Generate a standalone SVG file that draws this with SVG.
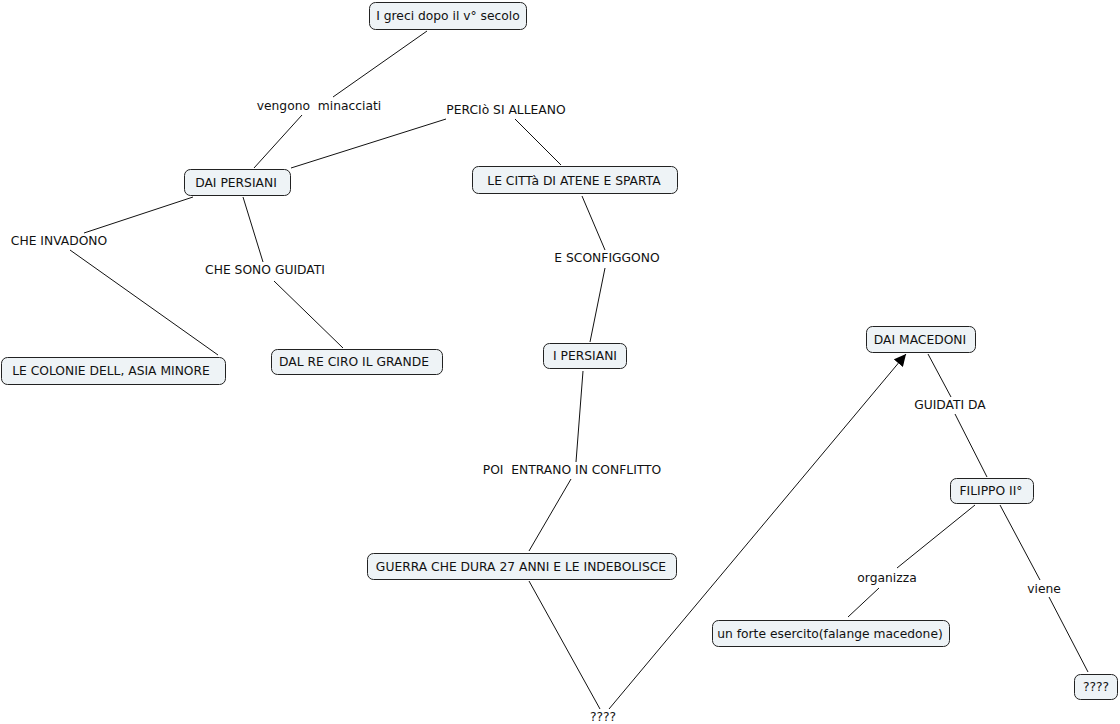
<svg xmlns="http://www.w3.org/2000/svg" width="1120" height="724" viewBox="0 0 1120 724">
<style>
.n rect{fill:#eef3f6;stroke:#222;stroke-width:1;}
text{font-family:"DejaVu Sans","Verdana",sans-serif;font-size:12.3px;fill:#111;white-space:pre;}
.c text{text-anchor:middle;}
.n text{text-anchor:middle;}
.c line{stroke:#111;stroke-width:1;fill:none;}
</style>
<defs>
<marker id="ah" viewBox="0 0 10 10" refX="10" refY="5" markerWidth="12" markerHeight="12" markerUnits="userSpaceOnUse" orient="auto">
<path d="M0,0 L10,5 L0,10 z" fill="#000"/>
</marker>
</defs>
<rect width="1120" height="724" fill="#fff"/>
<g id="connectors" class="c">
<line x1="427" y1="31" x2="333" y2="97"/>
<line x1="302" y1="115" x2="254" y2="168"/>
<line x1="446" y1="119" x2="291" y2="168"/>
<line x1="515" y1="119" x2="561" y2="165"/>
<line x1="193" y1="197" x2="84" y2="233"/>
<line x1="70" y1="250" x2="218" y2="355"/>
<line x1="243" y1="197" x2="263" y2="262"/>
<line x1="274" y1="281" x2="343" y2="348"/>
<line x1="582" y1="196" x2="605" y2="250"/>
<line x1="605" y1="268" x2="590" y2="342"/>
<line x1="583" y1="371" x2="576" y2="462"/>
<line x1="571" y1="479" x2="529" y2="551"/>
<line x1="529" y1="581" x2="600" y2="709"/>
<line x1="609" y1="709" x2="906" y2="354" marker-end="url(#ah)"/>
<line x1="928" y1="354" x2="951" y2="397"/>
<line x1="955" y1="414" x2="987" y2="477"/>
<line x1="975" y1="505" x2="897" y2="568"/>
<line x1="879" y1="588" x2="848" y2="617"/>
<line x1="1000" y1="505" x2="1040" y2="580"/>
<line x1="1049" y1="597" x2="1088" y2="672"/>
<text x="319" y="110" xml:space="preserve">vengono  minacciati</text>
<text x="506" y="114">PERCIò SI ALLEANO</text>
<text x="59" y="245">CHE INVADONO</text>
<text x="265" y="274">CHE SONO GUIDATI</text>
<text x="607" y="262">E SCONFIGGONO</text>
<text x="572" y="474" xml:space="preserve">POI  ENTRANO IN CONFLITTO</text>
<text x="603" y="721">????</text>
<text x="950" y="409">GUIDATI DA</text>
<text x="887" y="582">organizza</text>
<text x="1044" y="593">viene</text>
</g>
<g id="n1" class="n"><rect x="369.5" y="2.5" width="157" height="27" rx="6"/><text x="448" y="20">I greci dopo il v° secolo</text></g>
<g id="n2" class="n"><rect x="184.5" y="169.5" width="106" height="26" rx="6"/><text x="236" y="187">DAI PERSIANI</text></g>
<g id="n3" class="n"><rect x="472.5" y="166.5" width="205" height="27" rx="6"/><text x="574" y="185">LE CITTà DI ATENE E SPARTA</text></g>
<g id="n4" class="n"><rect x="1.5" y="357.5" width="224" height="27" rx="6"/><text x="111" y="375">LE COLONIE DELL, ASIA MINORE</text></g>
<g id="n5" class="n"><rect x="271.5" y="349.5" width="171" height="25" rx="6"/><text x="354" y="366">DAL RE CIRO IL GRANDE</text></g>
<g id="n6" class="n"><rect x="543.5" y="343.5" width="83" height="25" rx="6"/><text x="585" y="360">I PERSIANI</text></g>
<g id="n7" class="n"><rect x="367.5" y="553.5" width="309" height="26" rx="6"/><text x="521" y="571">GUERRA CHE DURA 27 ANNI E LE INDEBOLISCE</text></g>
<g id="n8" class="n"><rect x="866.5" y="326.5" width="109" height="26" rx="6"/><text x="920" y="344">DAI MACEDONI</text></g>
<g id="n9" class="n"><rect x="950.5" y="478.5" width="83" height="25" rx="6"/><text x="991" y="495">FILIPPO II°</text></g>
<g id="n10" class="n"><rect x="712.5" y="620.5" width="237" height="26" rx="6"/><text x="830" y="638">un forte esercito(falange macedone)</text></g>
<g id="n11" class="n"><rect x="1074.5" y="674.5" width="43" height="25" rx="6"/><text x="1096" y="691">????</text></g>
</svg>
